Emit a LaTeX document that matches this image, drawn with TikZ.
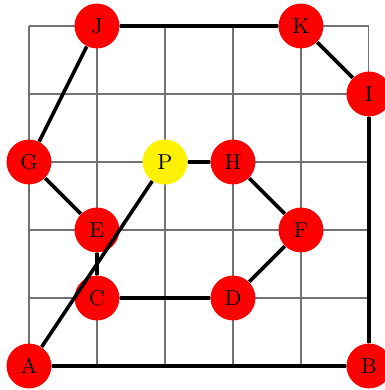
\documentclass[tikz,border=0pt]{standalone}
\usepackage{tikz}
\usetikzlibrary{positioning}

\begin{document}
\begin{tikzpicture}[
    pt/.style={circle, fill=red, minimum size=0.66cm, inner sep=0pt, font=\small},
    seg/.style={draw, line width=1.5pt}
]
\useasboundingbox (-0.426,-0.353) rectangle (5.235,5.382);
% Grille
\draw[black!55, line width=0.45pt] (0,0) grid (5,5);

% Sommets
\node[pt] (A) at (0,0) {A};
\node[pt] (B) at (5,0) {B};
\node[pt] (C) at (1,1) {C};
\node[pt] (D) at (3,1) {D};
\node[pt] (E) at (1,2) {E};
\node[pt] (F) at (4,2) {F};
\node[pt] (G) at (0,3) {G};
\node[pt, fill=yellow] (P) at (2,3) {P};
\node[pt] (H) at (3,3) {H};
\node[pt] (I) at (5,4) {I};
\node[pt] (J) at (1,5) {J};
\node[pt] (K) at (4,5) {K};

% Aretes
\draw[seg] (A) -- (B);
\draw[seg] (B) -- (I);
\draw[seg] (I) -- (K);
\draw[seg] (K) -- (J);
\draw[seg] (J) -- (G);
\draw[seg] (G) -- (E);
\draw[seg] (E) -- (C);
\draw[seg] (C) -- (D);
\draw[seg] (D) -- (F);
\draw[seg] (F) -- (H);
\draw[seg] (H) -- (P);
\draw[seg] (A) -- (P);
\end{tikzpicture}
\end{document}
